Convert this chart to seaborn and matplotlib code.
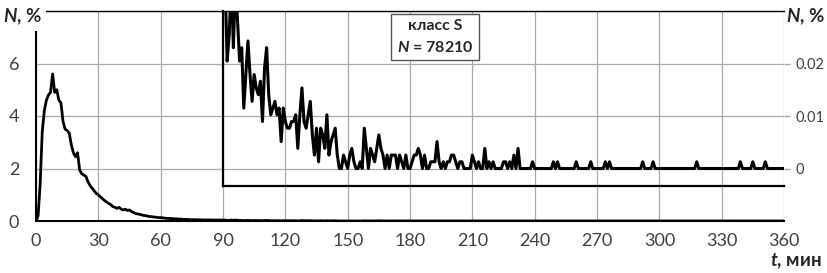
import numpy as np
import pandas as pd
import seaborn as sns
import matplotlib.pyplot as plt

N_TOTAL = 78210

# main part of the curve, t = 0..89 min, values in %
t_head = list(range(0, 90))
head_pct = [
    0.0, 0.2, 1.4, 3.4, 4.2, 4.6, 4.8, 4.9, 5.6, 4.9,
    5.0, 4.6, 4.5, 3.8, 3.5, 3.45, 3.35, 2.9, 2.6, 2.45,
    2.6, 1.95, 1.8, 1.75, 1.7, 1.5, 1.35, 1.25, 1.15, 1.05,
    1.0, 0.92, 0.85, 0.78, 0.72, 0.67, 0.62, 0.55, 0.52, 0.48,
    0.52, 0.45, 0.42, 0.45, 0.40, 0.42, 0.36, 0.32, 0.28, 0.27,
    0.25, 0.23, 0.21, 0.20, 0.18, 0.17, 0.16, 0.15, 0.14, 0.13,
    0.13, 0.12, 0.11, 0.10, 0.10, 0.09, 0.09, 0.08, 0.08, 0.07,
    0.07, 0.06, 0.06, 0.06, 0.05, 0.05, 0.05, 0.05, 0.045, 0.045,
    0.04, 0.04, 0.04, 0.04, 0.04, 0.04, 0.035, 0.04, 0.035, 0.035,
]

# tail, t = 90..360 min, particle counts per minute
t_tail = list(range(90, 361))
tail_counts = [
    30, 28, 16, 20, 28, 18, 28, 22, 16, 18,   # 90
    9, 14, 19, 14, 10, 14, 12, 11, 13, 7,     # 100
    15, 18, 11, 8, 9, 10, 8, 9, 4, 9,         # 110
    7, 6, 6, 7, 7, 8, 3, 8, 12, 7,            # 120
    6, 8, 10, 5, 2, 6, 1, 6, 5, 3,            # 130
    8, 2, 4, 5, 6, 2, 0, 0, 2, 1,             # 140
    0, 2, 3, 1, 0, 0, 1, 0, 6, 3,             # 150
    0, 3, 2, 1, 3, 5, 3, 2, 0, 2,             # 160
    0, 2, 2, 2, 0, 2, 1, 0, 2, 0,             # 170
    0, 1, 2, 2, 3, 2, 0, 2, 0, 0,             # 180
    1, 1, 1, 4, 1, 0, 1, 0, 1, 1,             # 190
    2, 2, 1, 0, 1, 1, 0, 0, 0, 0,             # 200
    2, 1, 0, 1, 0, 0, 3, 0, 1, 0,             # 210
    1, 0, 0, 0, 0, 1, 1, 0, 1, 0,             # 220
    2, 0, 3, 0, 0, 0, 0, 0, 0, 1,             # 230
    0, 0, 0, 0, 0, 0, 0, 0, 0, 1,             # 240
    0, 1, 0, 0, 0, 0, 0, 0, 0, 0,             # 250
    1, 0, 0, 0, 0, 0, 0, 1, 0, 0,             # 260
    0, 0, 0, 0, 1, 0, 1, 0, 0, 0,             # 270
    0, 0, 0, 0, 0, 0, 0, 0, 0, 0,             # 280
    0, 0, 1, 0, 0, 0, 0, 1, 0, 0,             # 290
    0, 0, 0, 0, 0, 0, 0, 0, 0, 0,             # 300
    0, 0, 0, 0, 0, 0, 0, 0, 1, 0,             # 310
    0, 0, 0, 0, 0, 0, 0, 0, 0, 0,             # 320
    0, 0, 0, 0, 0, 0, 0, 0, 0, 1,             # 330
    0, 0, 0, 0, 0, 1, 0, 0, 0, 0,             # 340
    0, 1, 0, 0, 0, 0, 0, 0, 0, 0,             # 350
    0,                                        # 360
]

x_ticks = list(range(0, 361, 30))
y_ticks_main = [0, 2, 4, 6, 8]
y_labels_main = ["0", "2", "4", "6", ""]
y_ticks_inset = [0, 0.01, 0.02]
y_labels_inset = ["0", "0.01", "0.02"]

df = pd.DataFrame({
    "t": t_head + t_tail,
    "N": head_pct + [c / N_TOTAL * 100 for c in tail_counts],
})

sns.set_theme(style="white")
plt.rcParams["font.family"] = ["Lato", "DejaVu Sans"]
plt.rcParams["mathtext.fontset"] = "custom"
plt.rcParams["mathtext.it"] = "Lato:italic:bold"
plt.rcParams["mathtext.rm"] = "Lato:bold"

tick_col = "#404040"
grid_col = "#a8a8a8"

fig = plt.figure(figsize=(8.28, 2.73), dpi=100)
ax = fig.add_axes([36 / 828, 52 / 273, 748 / 828, 210 / 273])
sns.lineplot(data=df, x="t", y="N", ax=ax, color="black", lw=2)
ax.set_xlim(0, 360)
ax.set_ylim(0, 8)
ax.set_xticks(x_ticks)
ax.set_xticklabels([str(v) for v in x_ticks], fontsize=13, color=tick_col)
ax.set_yticks(y_ticks_main)
ax.set_yticklabels(y_labels_main, fontsize=13, color=tick_col)
ax.set_xlabel("")
ax.set_ylabel("")
ax.grid(True, color=grid_col, lw=0.9)
ax.tick_params(axis="x", direction="inout", length=7, width=1, color="black", pad=5)
ax.tick_params(axis="y", direction="out", length=4, width=1, color=grid_col, pad=8)
ax.spines["right"].set_visible(False)
ax.spines["top"].set_color("black")
ax.spines["top"].set_linewidth(1)
ax.spines["left"].set_color("black")
ax.spines["left"].set_linewidth(1.5)
ax.spines["bottom"].set_color("black")
ax.spines["bottom"].set_linewidth(1.5)

# zoomed inset for the tail
ins = ax.inset_axes([90, 1.33, 270, 6.67], transform=ax.transData)
ins.patch.set_alpha(0)
sns.lineplot(data=df, x="t", y="N", ax=ins, color="black", lw=2.2)
ins.set_xlim(90, 360)
ins.set_ylim(-0.00335, 0.03)
ins.set_xticks([])
ins.set_xlabel("")
ins.set_ylabel("")
ins.yaxis.tick_right()
ins.set_yticks(y_ticks_inset)
ins.set_yticklabels(y_labels_inset, fontsize=10.5, color=tick_col)
ins.tick_params(axis="y", direction="out", length=4, width=1, color=grid_col, pad=4)
ins.spines["top"].set_visible(False)
ins.spines["right"].set_visible(False)
ins.spines["left"].set_color("black")
ins.spines["left"].set_linewidth(1.6)
ins.spines["bottom"].set_color("black")
ins.spines["bottom"].set_linewidth(1.6)
ins.grid(False)

fig.text(3 / 828, 1 - 17 / 273, "$N$, %", fontsize=13.5, fontweight="bold", ha="left", va="center",
         bbox=dict(facecolor="white", edgecolor="none", pad=3))
fig.text(825 / 828, 1 - 17 / 273, "$N$, %", fontsize=13.5, fontweight="bold", ha="right", va="center")
fig.text(822 / 828, 1 - 261 / 273, "$t$, мин", fontsize=13.5, fontweight="bold", ha="right", va="center")
fig.text(435 / 828, 1 - 37 / 273, "класс S\n$N$ = 78210", fontsize=11.5, fontweight="bold",
         ha="center", va="center", linespacing=1.5,
         bbox=dict(boxstyle="square,pad=0.35", facecolor="white", edgecolor="#555555", lw=1))

fig.savefig("out.png", dpi=100)
